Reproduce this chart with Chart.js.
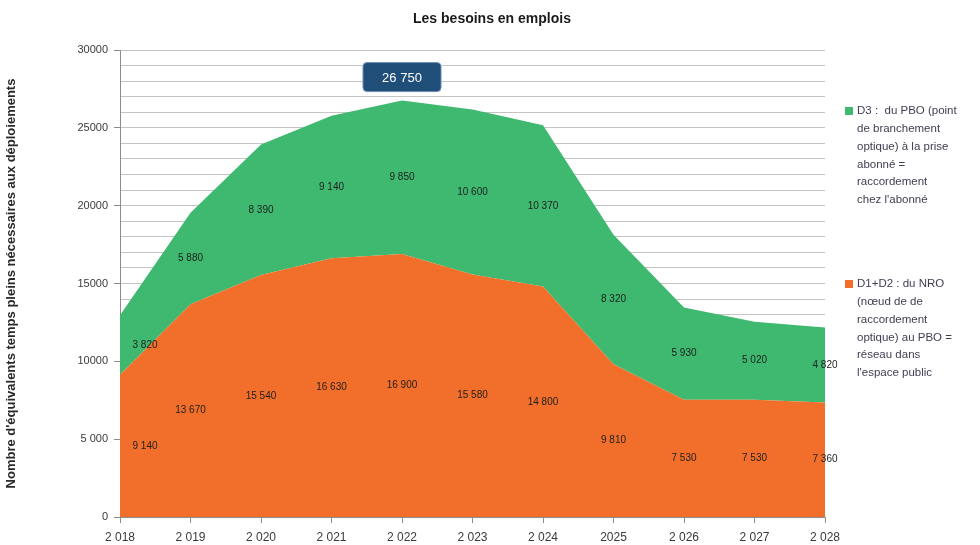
<!DOCTYPE html>
<html>
<head>
<meta charset="utf-8">
<script src="https://cdn.jsdelivr.net/npm/chart.js@4/dist/chart.umd.min.js"></script>
<style>
  html, body { margin: 0; padding: 0; background: #ffffff; }
  #wrap { width: 980px; height: 545px; position: relative; }
</style>
</head>
<body>
<div id="wrap"><canvas id="besoins_Chart" width="980" height="545"></canvas></div>
<script>
// données
const annees = ['2 018', '2 019', '2 020', '2 021', '2 022', '2 023', '2 024', '2025', '2 026', '2 027', '2 028'];
const d1d2 = [9140, 13670, 15540, 16630, 16900, 15580, 14800, 9810, 7530, 7530, 7360];
const d3 = [3820, 5880, 8390, 9140, 9850, 10600, 10370, 8320, 5930, 5020, 4820];
const yTickLabels = ['0', '5 000', '10000', '15000', '20000', '25000', '30000'];
const picLabel = '26 750';
const picIndex = 4;

const legendD3 = ['D3 :  du PBO (point', 'de branchement', 'optique) à la prise', 'abonné =', 'raccordement', "chez l'abonné"];
const legendD1D2 = ['D1+D2 : du NRO', '(nœud de de', 'raccordement', 'optique) au PBO =', 'réseau dans', "l'espace public"];

const VERT = 'rgb(62, 185, 111)';
const ORANGE = 'rgb(241, 111, 42)';
const FONT = '"Liberation Sans", "DejaVu Sans", sans-serif';

function fmt(v) {
    return String(v).replace(/\B(?=(\d{3})+(?!\d))/g, ' ');
}

// étiquettes, bulle et légende
const decor = {
    id: 'decor',
    afterDatasetsDraw(chart) {
        const ctx = chart.ctx;
        const x = chart.scales.x, y = chart.scales.y;
        ctx.save();
        ctx.font = '10px ' + FONT;
        ctx.fillStyle = '#1e1e1e';
        ctx.textAlign = 'center';
        ctx.textBaseline = 'middle';
        for (let i = 0; i < annees.length; i++) {
            let px = x.getPixelForValue(i);
            if (i === 0) px += 25;
            const yo = y.getPixelForValue(d1d2[i] / 2);
            const yv = y.getPixelForValue(d1d2[i] + d3[i] / 2);
            ctx.fillText(fmt(d1d2[i]), px, yo);
            ctx.fillText(fmt(d3[i]), px, yv);
        }

        // bulle du maximum
        const bx = x.getPixelForValue(picIndex);
        const by = y.getPixelForValue(d1d2[picIndex] + d3[picIndex]);
        const w = 78, h = 29;
        const left = bx - w / 2, top = by - 9 - h;
        ctx.beginPath();
        ctx.roundRect(left, top, w, h, 4);
        ctx.fillStyle = '#1f4e79';
        ctx.fill();
        ctx.strokeStyle = '#6d8fb3';
        ctx.lineWidth = 1;
        ctx.stroke();
        ctx.fillStyle = '#ffffff';
        ctx.font = '13px ' + FONT;
        ctx.fillText(picLabel, bx, top + h / 2 + 1);

        // titre
        ctx.fillStyle = '#1a1a1a';
        ctx.font = 'bold 14px ' + FONT;
        ctx.fillText('Les besoins en emplois', 492, 19);

        // légende
        ctx.textAlign = 'left';
        ctx.font = '11.5px ' + FONT;
        const items = [[legendD3, VERT, 111], [legendD1D2, ORANGE, 284]];
        items.forEach(function (it) {
            ctx.fillStyle = it[1];
            ctx.fillRect(845, it[2] - 4, 8, 8);
            ctx.fillStyle = '#3e3e52';
            it[0].forEach(function (line, k) {
                ctx.fillText(line, 857, it[2] + k * 17.8);
            });
        });
        ctx.restore();
    }
};

const ctx = document.getElementById('besoins_Chart').getContext('2d');
const AreaChart = new Chart(ctx, {
    type: 'line',
    data: {
        labels: annees,
        datasets: [{
            label: 'D1+D2 : du NRO (nœud de de raccordement optique) au PBO = réseau dans l\'espace public',
            data: d1d2,
            fill: 'origin',
            backgroundColor: ORANGE,
            borderWidth: 0,
            pointRadius: 0,
            tension: 0
        }, {
            label: 'D3 : du PBO (point de branchement optique) à la prise abonné = raccordement chez l\'abonné',
            data: d3,
            fill: '-1',
            backgroundColor: VERT,
            borderWidth: 0,
            pointRadius: 0,
            tension: 0
        }]
    },
    options: {
        responsive: false,
        animation: false,
        layout: {
            padding: { top: 50, right: 155, bottom: 0, left: 0 }
        },
        scales: {
            x: {
                offset: false,
                afterFit: function (s) { s.height = 28; },
                grid: {
                    drawOnChartArea: false,
                    tickLength: 6,
                    tickColor: '#8c8c8c'
                },
                border: { color: '#8c8c8c' },
                ticks: {
                    font: { size: 12, family: FONT },
                    color: '#3a3a3a',
                    maxRotation: 0,
                    autoSkip: false,
                    padding: 7
                }
            },
            y: {
                stacked: true,
                min: 0,
                max: 30000,
                afterFit: function (s) { s.width = 120; },
                title: {
                    display: true,
                    text: "Nombre d'équivalents temps pleins nécessaires aux déploiements",
                    font: { size: 13, weight: 'bold', family: FONT },
                    color: '#2a2a2a',
                    padding: { top: 4, bottom: 0 }
                },
                grid: {
                    color: '#c4c4c4',
                    tickLength: 6,
                    tickColor: function (c) {
                        return c.tick && c.tick.value % 5000 === 0 ? '#8c8c8c' : 'rgba(0,0,0,0)';
                    }
                },
                border: { color: '#8c8c8c' },
                ticks: {
                    stepSize: 1000,
                    autoSkip: false,
                    font: { size: 11, family: FONT },
                    color: '#3a3a3a',
                    padding: 6,
                    callback: function (v) {
                        return v % 5000 === 0 ? yTickLabels[v / 5000] : '';
                    }
                }
            }
        },
        plugins: {
            legend: { display: false },
            tooltip: { enabled: false },
            filler: { propagate: false }
        }
    },
    plugins: [decor]
});
</script>
</body>
</html>
